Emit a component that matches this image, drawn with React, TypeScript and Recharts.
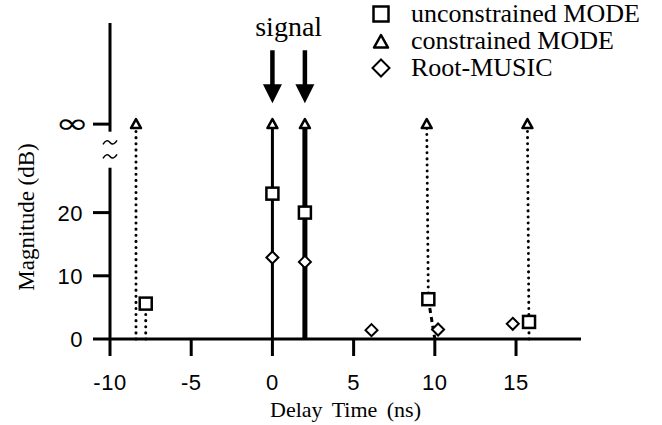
import React from 'react';
import { ComposedChart, Scatter, XAxis, YAxis, ReferenceLine, ReferenceDot } from 'recharts';

// "∞" row is drawn at this height on the linear dB scale (axis is broken below it)
const INF = 34;

const xTicks = [-10, -5, 0, 5, 10, 15];
const yTicks = [0, 10, 20, INF];

const unconstrainedMode = [
  { x: -7.8, y: 5.6 },
  { x: 0, y: 23 },
  { x: 2, y: 20 },
  { x: 9.6, y: 6.3 },
  { x: 15.8, y: 2.7 },
];

const constrainedMode = [
  { x: -8.4, y: INF },
  { x: 0, y: INF },
  { x: 2, y: INF },
  { x: 9.5, y: INF },
  { x: 15.7, y: INF },
];

const rootMusic = [
  { x: 0, y: 12.9 },
  { x: 2, y: 12.2 },
  { x: 6.1, y: 1.4 },
  { x: 10.2, y: 1.5 },
  { x: 14.8, y: 2.4 },
];

// true signal delays (arrows + solid stems)
const signalDelays = [0, 2];
const signalStemWidths = [3, 5];

// dotted stems of the spurious estimates
const dottedStems = [
  { x1: -8.4, y1: 0, x2: -8.4, y2: INF },
  { x1: -7.8, y1: 0, x2: -7.8, y2: 5.6 },
  { x1: 9.6, y1: 6.3, x2: 9.5, y2: INF },
  { x1: 15.8, y1: 0, x2: 15.7, y2: INF },
];
const dashedStems = [{ x1: 9.6, y1: 6.3, x2: 10, y2: 0 }];

const legendItems = [
  { name: 'unconstrained MODE', symbol: 'square' },
  { name: 'constrained MODE', symbol: 'triangle' },
  { name: 'Root-MUSIC', symbol: 'diamond' },
];

const SERIF = '"Liberation Serif", "Times New Roman", serif';
const SANS = '"Liberation Sans", Arial, sans-serif';

// note: recharts hands Scatter shapes its own `size`, so the marker size is `s`
const Square = (props: any) => {
  const { cx, cy, s = 12 } = props;
  return <rect x={cx - s / 2} y={cy - s / 2} width={s} height={s} fill="#fff" stroke="#000" strokeWidth={2.5} />;
};

const Triangle = (props: any) => {
  const { cx, cy, s = 10 } = props;
  const h = s / 2;
  return (
    <path d={`M${cx},${cy - h} L${cx + h},${cy + h * 0.8} L${cx - h},${cy + h * 0.8} Z`} fill="#fff" stroke="#000" strokeWidth={2.5} strokeLinejoin="round" />
  );
};

const Diamond = (props: any) => {
  const { cx, cy, s = 12 } = props;
  const h = s / 2;
  return (
    <path d={`M${cx},${cy - h} L${cx + h},${cy} L${cx},${cy + h} L${cx - h},${cy} Z`} fill="#fff" stroke="#000" strokeWidth={2} />
  );
};

const Arrow = (props: any) => {
  const { cx, cy } = props;
  return (
    <g>
      <line x1={cx} y1={cy - 53} x2={cx} y2={cy - 15} stroke="#000" strokeWidth={4.5} />
      <path d={`M${cx - 9.5},${cy - 19} L${cx + 9.5},${cy - 19} L${cx},${cy} Z`} fill="#000" />
    </g>
  );
};

const AxisBreak = (props: any) => {
  const { cx, cy } = props;
  const tilde = (y: number) => `M${cx - 7},${y + 2} q3.5,-6 7,-2 t7,-2`;
  return (
    <g fill="none" stroke="#000" strokeWidth={1.5}>
      <path d={tilde(cy - 7)} />
      <path d={tilde(cy + 7)} />
    </g>
  );
};

const XTick = (props: any) => {
  const { x, y, payload } = props;
  return (
    <text x={x} y={y} dy={30} textAnchor="middle" fontFamily={SANS} fontSize={22} letterSpacing={0.5} fill="#000">
      {payload.value}
    </text>
  );
};

const YTick = (props: any) => {
  const { x, y, payload } = props;
  if (payload.value === INF) {
    return (
      <g transform={`translate(${x + 6},${y}) scale(1.45,1)`}>
        <text x={0} y={0} dy={9} textAnchor="end" fontFamily='"DejaVu Sans", sans-serif' fontSize={28} fill="#000">
          ∞
        </text>
      </g>
    );
  }
  return (
    <text x={x} y={y} dy={8} textAnchor="end" fontFamily={SANS} fontSize={22} letterSpacing={0.5} fill="#000">
      {payload.value}
    </text>
  );
};

const LegendSymbol = ({ symbol }: { symbol: string }) => (
  <svg width={22} height={22} style={{ marginRight: 19 }}>
    {symbol === 'square' && <Square cx={11} cy={11} s={15} />}
    {symbol === 'triangle' && <Triangle cx={11} cy={12} s={14} />}
    {symbol === 'diamond' && <Diamond cx={11} cy={11} s={17} />}
  </svg>
);

export default function App() {
  return (
    <div style={{ position: 'absolute', left: 0, top: 0, width: 662, height: 425, background: '#fff' }}>
      <ComposedChart width={662} height={425} margin={{ top: 23, right: 81, bottom: 0, left: 0 }}>
        <XAxis
          type="number"
          dataKey="x"
          domain={[-10, 19]}
          ticks={xTicks}
          allowDataOverflow
          height={86}
          axisLine={{ stroke: '#000', strokeWidth: 3 }}
          tickLine={{ stroke: '#000', strokeWidth: 3 }}
          tickSize={17}
          tickMargin={4}
          tick={<XTick />}
          label={{
            content: (p: any) => {
              const vb = p.viewBox;
              return (
                <text x={vb.x + vb.width / 2} y={vb.y + 78} textAnchor="middle" fontFamily={SERIF} fontSize={22} wordSpacing={4} fill="#000">
                  Delay Time (ns)
                </text>
              );
            },
          }}
        />
        <YAxis
          type="number"
          dataKey="y"
          domain={[0, 50]}
          ticks={yTicks}
          allowDataOverflow
          width={110}
          axisLine={false}
          tickLine={{ stroke: '#000', strokeWidth: 3 }}
          tickSize={17}
          tickMargin={10}
          tick={<YTick />}
          label={{
            content: (p: any) => {
              const vb = p.viewBox;
              const cx = vb.x + 26;
              const cy = vb.y + vb.height / 2 + 36;
              return (
                <text x={cx} y={cy} transform={`rotate(-90 ${cx} ${cy})`} textAnchor="middle" dominantBaseline="central" fontFamily={SERIF} fontSize={23} fill="#000">
                  Magnitude (dB)
                </text>
              );
            },
          }}
        />

        {/* broken y axis */}
        <ReferenceLine segment={[{ x: -10, y: 0 }, { x: -10, y: 27.1 }]} stroke="#000" strokeWidth={3} />
        <ReferenceLine segment={[{ x: -10, y: 32.8 }, { x: -10, y: 50 }]} stroke="#000" strokeWidth={3} />
        <ReferenceDot x={-10} y={30} shape={<AxisBreak />} ifOverflow="visible" />

        {signalDelays.map((d, i) => (
          <ReferenceLine key={`s${i}`} segment={[{ x: d, y: 0 }, { x: d, y: INF }]} stroke="#000" strokeWidth={signalStemWidths[i]} />
        ))}
        {dottedStems.map((st, i) => (
          <ReferenceLine
            key={`d${i}`}
            segment={[{ x: st.x1, y: st.y1 }, { x: st.x2, y: st.y2 }]}
            stroke="#000"
            strokeWidth={3}
            strokeDasharray="0.1 6"
            strokeLinecap="round"
          />
        ))}
        {dashedStems.map((st, i) => (
          <ReferenceLine
            key={`h${i}`}
            segment={[{ x: st.x1, y: st.y1 }, { x: st.x2, y: st.y2 }]}
            stroke="#000"
            strokeWidth={3}
            strokeDasharray="5 4"
          />
        ))}

        {signalDelays.map((d, i) => (
          <ReferenceDot key={`a${i}`} x={d} y={37.3} shape={<Arrow />} ifOverflow="visible" />
        ))}
        <ReferenceDot
          x={(signalDelays[0] + signalDelays[1]) / 2}
          y={48}
          ifOverflow="visible"
          shape={(p: any) => (
            <text x={p.cx} y={p.cy} textAnchor="middle" fontFamily={SERIF} fontSize={28} fill="#000">
              signal
            </text>
          )}
        />

        <Scatter name="unconstrained MODE" data={unconstrainedMode} shape={<Square />} isAnimationActive={false} />
        <Scatter name="constrained MODE" data={constrainedMode} shape={<Triangle />} isAnimationActive={false} />
        <Scatter name="Root-MUSIC" data={rootMusic} shape={<Diamond />} isAnimationActive={false} />
      </ComposedChart>

      <div style={{ position: 'absolute', left: 370, top: 0, fontFamily: SERIF, fontSize: 26, lineHeight: '27px', color: '#000' }}>
        {legendItems.map((item) => (
          <div key={item.name} style={{ display: 'flex', alignItems: 'center', whiteSpace: 'nowrap' }}>
            <LegendSymbol symbol={item.symbol} />
            <span>{item.name}</span>
          </div>
        ))}
      </div>
    </div>
  );
}
